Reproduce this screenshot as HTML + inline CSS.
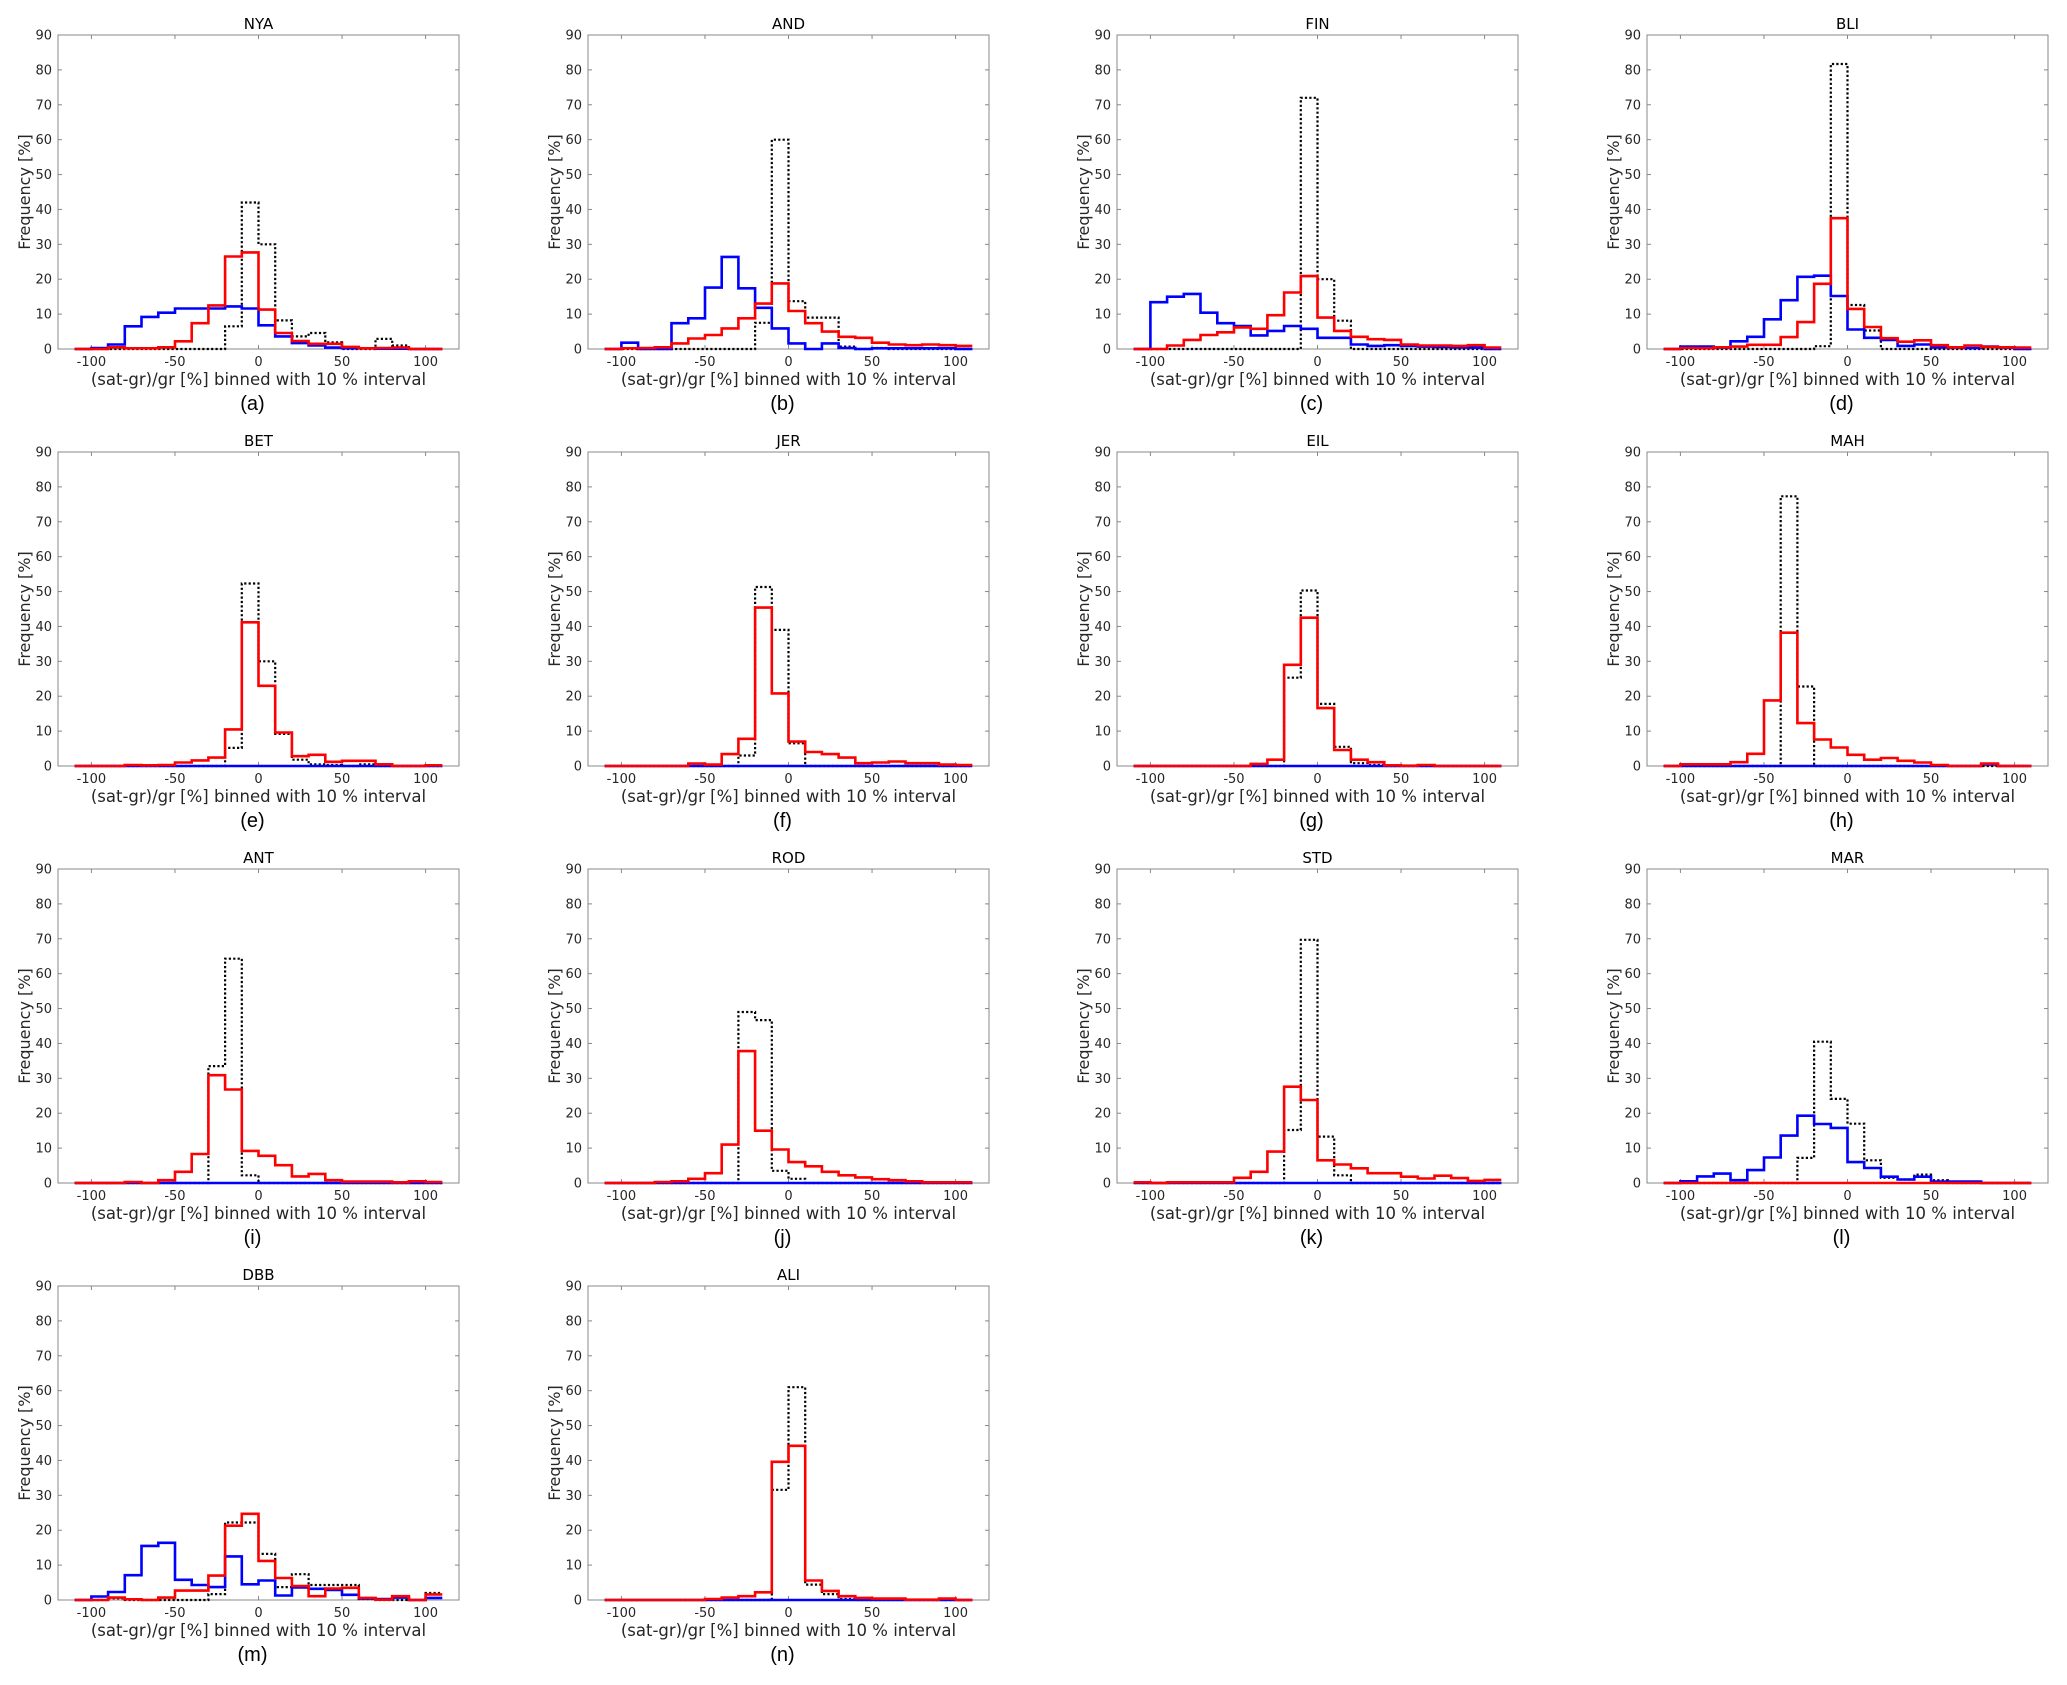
<!DOCTYPE html>
<html><head><meta charset="utf-8"><style>
html,body{margin:0;padding:0;background:#fff;}
svg text{font-family:"DejaVu Sans","Liberation Sans",sans-serif;}
svg text.lt{font-family:"Liberation Sans",sans-serif;}
</style></head>
<body>
<svg id="fig" width="2067" height="1680" viewBox="0 0 2067 1680" xmlns="http://www.w3.org/2000/svg"></svg>
<script>
const binEdges = [-110,-100,-90,-80,-70,-60,-50,-40,-30,-20,-10,0,10,20,30,40,50,60,70,80,90,100,110];
const xTicks = [-100,-50,0,50,100];
const yTicks = [0,10,20,30,40,50,60,70,80,90];
const stationNames = ["NYA","AND","FIN","BLI","BET","JER","EIL","MAH","ANT","ROD","STD","MAR","DBB","ALI"];
const panelLetters = ["(a)","(b)","(c)","(d)","(e)","(f)","(g)","(h)","(i)","(j)","(k)","(l)","(m)","(n)"];
const Z = [0,0,0,0,0,0,0,0,0,0,0,0,0,0,0,0,0,0,0,0,0,0];

const nyaBlue = [0,0.3,1.3,6.5,9.2,10.4,11.6,11.6,11.6,12.2,11.6,6.8,3.6,1.7,1.0,0.4,0.2,0.2,0.1,0.1,0,0];
const nyaRed  = [0,0,0.5,0.2,0.2,0.5,2.2,7.4,12.5,26.5,27.7,11.3,4.6,2.3,1.5,1.5,0.6,0.2,0.3,0.4,0,0];
const nyaDot  = [0,0,0,0,0,0,0,0,0,6.5,42,30,8.2,3.6,4.6,1.9,0,0,2.9,1,0,0];

const andBlue = [0,1.8,0,0,7.4,8.8,17.6,26.4,17.4,11.8,5.9,1.6,0,1.6,0.3,0,0.2,0.2,0.2,0.2,0.2,0];
const andRed  = [0,0.2,0.3,0.5,1.6,3,4,5.9,8.8,13,18.8,10.9,7.4,5,3.5,3.2,1.8,1.3,1.1,1.3,1.1,0.9];
const andDot  = [0,0,0,0,0,0,0,0,0,7.5,60,13.7,9,9,0.7,0,0.3,0,0,0,0,0];

const finBlue = [0,13.4,15,15.8,10.4,7.4,6.6,3.9,5.2,6.6,5.8,3.2,3.2,1.3,0.9,1.1,0.9,0.7,0.6,0.5,0.4,0];
const finRed  = [0,0,1,2.6,4,4.8,6.2,5.8,9.7,16.2,20.9,9,5.2,3.5,2.8,2.6,1.3,1,1,0.9,1.1,0.4];
const finDot  = [0,0,0,0,0,0,0,0,0,0,72,20,8.1,0,0,0,0,0,0,0,0,0];

const bliBlue = [0,0.7,0.7,0.4,2.2,3.5,8.5,14,20.7,21,15.2,5.6,3.2,2.6,0.9,1.3,0.5,0.4,0.3,0.7,0.4,0];
const bliRed  = [0,0.3,0.2,0.5,0.7,1.2,1.2,3.4,7.7,18.7,37.5,11.5,6.3,3.1,2.1,2.5,1.1,0.5,1,0.6,0.5,0.4];
const bliDot  = [0,0,0,0,0,0,0,0,0,0.8,81.7,12.6,5.3,0,0,0,0,0,0,0,0,0];

const betBlue = Z;
const betRed  = [0,0,0,0.3,0.2,0.3,1,1.6,2.4,10.5,41.2,23,9.6,2.8,3.2,1.2,1.5,1.5,0.5,0,0,0.2];
const betDot  = [0,0,0,0,0,0,0,0,0,5.2,52.3,30,9.2,1.8,0.5,0.3,0,0.5,0,0,0,0];

const jerBlue = Z;
const jerRed  = [0,0,0,0,0,0.7,0.4,3.4,7.8,45.4,20.8,7,4,3.4,2.4,0.8,1,1.3,0.8,0.8,0.4,0.3];
const jerDot  = [0,0,0,0,0,0,0,0,3,51.3,39,6.5,0,0,0,0,0,0,0,0,0,0];

const eilBlue = Z;
const eilRed  = [0,0,0,0,0,0,0,0.6,1.8,29,42.5,16.6,4.6,1.8,1.1,0.2,0.1,0.3,0,0,0,0];
const eilDot  = [0,0,0,0,0,0,0,0,0,25.3,50.3,17.8,5.5,0.8,0.3,0,0,0,0,0,0,0];

const mahBlue = [0,0,0,0,0,0,0,0,0,0,0,0,0,0,0,0,0,0,0,0.5,0,0];
const mahRed  = [0,0.5,0.5,0.5,1.1,3.5,18.8,38.2,12.3,7.6,5.3,3.2,1.8,2.3,1.5,1,0.3,0,0,0.7,0,0];
const mahDot  = [0,0,0,0,0,0,0,77.3,22.8,0,0,0,0,0,0,0,0,0,0,0,0,0];

const antBlue = Z;
const antRed  = [0,0,0,0.3,0,0.8,3.2,8.3,30.9,26.8,9.2,7.8,5.1,1.9,2.6,0.8,0.4,0.4,0.4,0.2,0.5,0.3];
const antDot  = [0,0,0,0,0,0,0,0,33.5,64.3,2.2,0,0,0,0,0,0,0,0,0,0,0];

const rodBlue = Z;
const rodRed  = [0,0,0,0.3,0.5,1.2,2.8,11,37.8,15,9.6,6,4.8,3.2,2.2,1.6,1.1,0.8,0.5,0.2,0.2,0.2];
const rodDot  = [0,0,0,0,0,0,0,0,49,46.7,3.5,1.2,0,0,0,0,0,0,0,0,0,0];

const stdBlue = Z;
const stdRed  = [0.2,0,0.2,0.2,0.2,0.2,1.5,3.2,9,27.6,23.8,6.5,5.3,4.2,2.8,2.8,1.8,1.3,2.1,1.4,0.6,0.9];
const stdDot  = [0,0,0,0,0,0,0,0,0,15.2,69.7,13.3,2.2,0,0,0,0,0,0,0,0,0];

const marBlue = [0,0.5,1.9,2.7,0.8,3.7,7.3,13.6,19.3,16.9,15.8,6,4.3,1.8,1,1.8,0.4,0.4,0.4,0,0,0];
const marRed  = Z;
const marDot  = [0,0,0,0,0,0,0,0,7.2,40.5,24.1,17,6.5,1.5,1,2.4,0.8,0,0,0,0,0];

const dbbBlue = [0,1,2.3,7.1,15.5,16.4,5.8,4.3,3.7,12.5,4.5,5.6,1.3,3.6,3.2,2.9,1.5,0.4,0.3,0.7,0,0.6];
const dbbRed  = [0,0,0.7,0.2,0,0.7,2.7,2.7,7,21.3,24.7,11.2,6.3,4,1.1,3.3,3.5,0.6,0.1,1.1,0,1.6];
const dbbDot  = [0,0,0.5,0,0,0,0,0,1.7,22.2,22.2,13.2,3.7,7.4,4.3,4.3,4.3,0.3,0,0,0,2];

const aliBlue = Z;
const aliRed  = [0,0,0,0,0,0,0.3,0.7,1.1,2.2,39.6,44.2,5.6,2.6,1.1,0.6,0.4,0.4,0.1,0.1,0.4,0];
const aliDot  = [0,0,0,0,0,0,0,0,0,0,31.6,61,4.4,1.7,0.3,0,0,0,0,0,0,0];

const blueSeries = [nyaBlue,andBlue,finBlue,bliBlue,betBlue,jerBlue,eilBlue,mahBlue,antBlue,rodBlue,stdBlue,marBlue,dbbBlue,aliBlue];
const redSeries  = [nyaRed,andRed,finRed,bliRed,betRed,jerRed,eilRed,mahRed,antRed,rodRed,stdRed,marRed,dbbRed,aliRed];
const dotSeries  = [nyaDot,andDot,finDot,bliDot,betDot,jerDot,eilDot,mahDot,antDot,rodDot,stdDot,marDot,dbbDot,aliDot];

const NS = "http://www.w3.org/2000/svg";
const fig = document.getElementById("fig");
const colLeft = [58,588,1117,1647];
const rowTop = [35,452,869,1286];
const AW = 401, AH = 314;
function mk(tag, attrs, parent){ const e = document.createElementNS(NS, tag); for (const k in attrs) e.setAttribute(k, attrs[k]); parent.appendChild(e); return e; }

stationNames.forEach((name, p) => {
  const L = colLeft[p % 4], T = rowTop[Math.floor(p / 4)];
  const xs = v => L + (v + 120) / 240 * AW;
  const ys = v => T + AH - v / 90 * AH;
  const g = mk("g", {}, fig);
  
  

  const box = mk("rect", {x:L, y:T, width:AW, height:AH, fill:"#fff", stroke:"#888", "stroke-width":1}, g);
  
  

  yTicks.forEach(t => {
    const y = ys(t);
    mk("line", {x1:L, x2:L+4, y1:y, y2:y, stroke:"#888"}, g);
    mk("line", {x1:L+AW, x2:L+AW-4, y1:y, y2:y, stroke:"#888"}, g);
    const tx = mk("text", {x:L-6, y:y+4.5, "text-anchor":"end", "font-size":13, fill:"#262626"}, g);
    tx.textContent = t;
    
    
  });
  xTicks.forEach(t => {
    const x = xs(t);
    mk("line", {x1:x, x2:x, y1:T+AH, y2:T+AH-4, stroke:"#888"}, g);
    mk("line", {x1:x, x2:x, y1:T, y2:T+4, stroke:"#888"}, g);
    const tx = mk("text", {x:x, y:T+AH+17, "text-anchor":"middle", "font-size":13, fill:"#262626"}, g);
    tx.textContent = t;
    
    
  });

  function stairs(vals, color, w, dash, nm){
    let d = "";
    vals.forEach((v, i) => {
      const x0 = xs(binEdges[i]), x1 = xs(binEdges[i+1]), y = ys(v);
      d += (i === 0 ? "M" : "L") + x0.toFixed(1) + "," + y.toFixed(1) + "L" + x1.toFixed(1) + "," + y.toFixed(1);
    });
    const a = {d:d, fill:"none", stroke:color, "stroke-width":w, "stroke-linejoin":"miter"};
    if (dash) a["stroke-dasharray"] = dash;
    const path = mk("path", a, g);
    
    
  }
  stairs(dotSeries[p], "#000", 2.2, "2.2,2.2", 'dotted-histogram');
  stairs(blueSeries[p], "#0000ff", 2.6, null, 'blue-histogram');
  stairs(redSeries[p], "#ff0000", 2.6, null, 'red-histogram');

  const title = mk("text", {x:L+AW/2, y:T-6, "text-anchor":"middle", "font-size":15, fill:"#000"}, g);
  title.textContent = name;
  
  

  const xl = mk("text", {x:L+AW/2, y:T+AH+36, "text-anchor":"middle", "font-size":16.5, fill:"#262626"}, g);
  xl.textContent = "(sat-gr)/gr [%] binned with 10 % interval";
  
  

  const yl = mk("text", {x:0, y:0, "text-anchor":"middle", "font-size":16, fill:"#262626", transform:"translate(" + (L-28) + "," + (T+AH/2) + ") rotate(-90)"}, g);
  yl.textContent = "Frequency [%]";
  
  

  const lt = mk("text", {x:L+AW/2-6, y:T+AH+61, "text-anchor":"middle", "font-size":20, fill:"#000", "class":"lt"}, g);
  lt.textContent = panelLetters[p];
  
  
});
</script>
</body></html>
